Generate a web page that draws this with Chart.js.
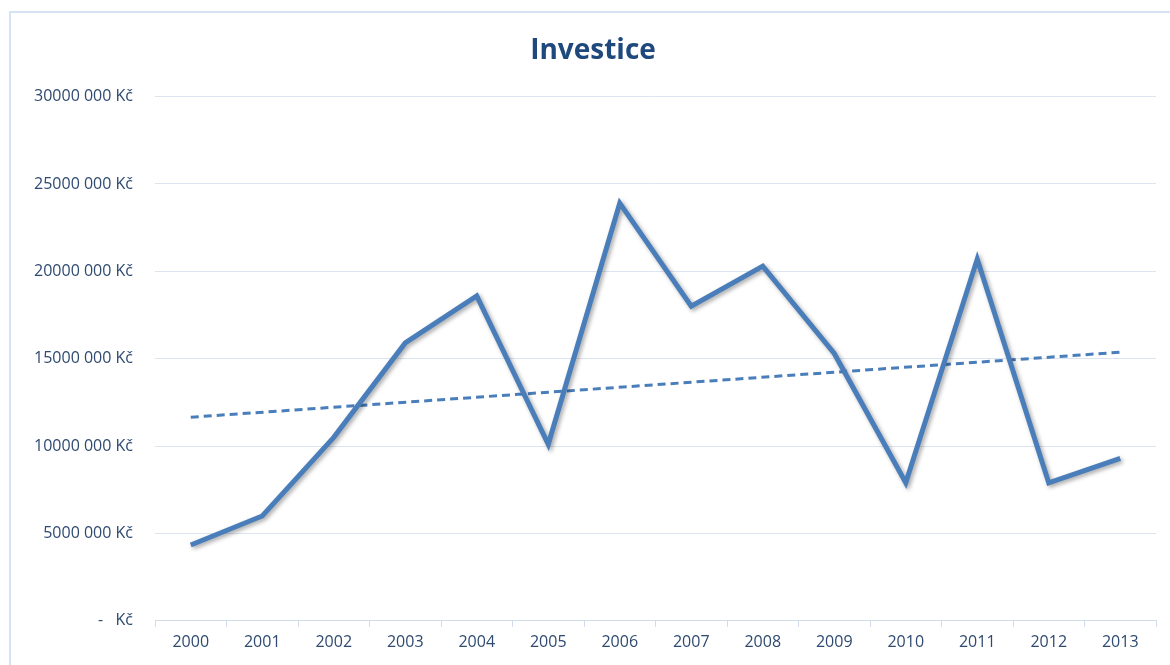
<!DOCTYPE html>
<html>
<head>
<meta charset="utf-8">
<script src="https://cdn.jsdelivr.net/npm/chart.js"></script>
<style>
  html, body { margin: 0; padding: 0; background: #fff; overflow: hidden; }
  #frame { position: absolute; left: 9px; top: 11px; width: 1200px; height: 700px;
           border: 2px solid #d6e3f3; box-sizing: border-box; }
  #c { position: absolute; left: 0; top: 0; }
</style>
</head>
<body>
<div id="frame"></div>
<canvas id="c" width="1186" height="665"></canvas>
<script>
'use strict';

const years = ['2000', '2001', '2002', '2003', '2004', '2005', '2006',
               '2007', '2008', '2009', '2010', '2011', '2012', '2013'];
const invest = [4340000, 6000000, 10500000, 15900000, 18600000, 10100000, 23900000,
                18000000, 20300000, 15300000, 7900000, 20700000, 7900000, 9300000];
// lineární trend – jen krajní body
const trend = [11650000, null, null, null, null, null, null,
               null, null, null, null, null, null, 15370000];
const yTicks = [0, 5000000, 10000000, 15000000, 20000000, 25000000, 30000000];

function kc(v) {
  if (!v) return '-   Kč';
  return Math.floor(v / 1000) + ' 000 Kč';
}

const shadow = {
  id: 'shadow',
  beforeDatasetDraw(chart, args) {
    const ctx = chart.ctx;
    ctx.save();
    if (args.index === 0) {
      ctx.shadowColor = 'rgba(0,0,0,0.35)';
      ctx.shadowBlur = 4;
      ctx.shadowOffsetX = 2;
      ctx.shadowOffsetY = 2;
    }
  },
  afterDatasetDraw(chart) {
    chart.ctx.restore();
  }
};

const FONT = '"Open Sans", "DejaVu Sans", sans-serif';

new Chart(document.getElementById('c'), {
  type: 'line',
  data: {
    labels: years,
    datasets: [{
      label: 'Investice',
      data: invest,
      borderColor: '#4a7ebb',
      borderWidth: 5,
      pointRadius: 0,
      tension: 0,
      fill: false
    }, {
      label: 'Trend',
      data: trend,
      borderColor: '#4a7ebb',
      borderWidth: 3,
      borderDash: [8, 5],
      pointRadius: 0,
      spanGaps: true,
      fill: false
    }]
  },
  options: {
    responsive: false,
    animation: false,
    layout: {padding: {left: 30, right: 30, top: 0, bottom: 7}},
    plugins: {
      legend: {display: false},
      tooltip: {enabled: false},
      title: {
        display: true,
        text: 'Investice',
        color: '#1f497d',
        font: {family: FONT, size: 28, weight: 'bold'},
        padding: {top: 34, bottom: 29}
      }
    },
    scales: {
      x: {
        offset: true,
        grid: {offset: true, drawOnChartArea: false, tickLength: 6, color: '#d0dcea'},
        border: {color: '#d0dcea'},
        ticks: {color: '#2e4a70', font: {family: FONT, size: 16}, padding: 6, maxRotation: 0}
      },
      y: {
        min: 0,
        max: 30000000,
        afterBuildTicks(axis) {
          axis.ticks = yTicks.map(v => ({value: v}));
        },
        afterFit(axis) {
          axis.width = 125;
        },
        grid: {color: '#dbe5f1', drawTicks: false},
        border: {display: false},
        ticks: {
          color: '#2e4a70',
          font: {family: FONT, size: 16},
          padding: 22,
          callback: v => kc(v)
        }
      }
    }
  },
  plugins: [shadow]
});
</script>
</body>
</html>
